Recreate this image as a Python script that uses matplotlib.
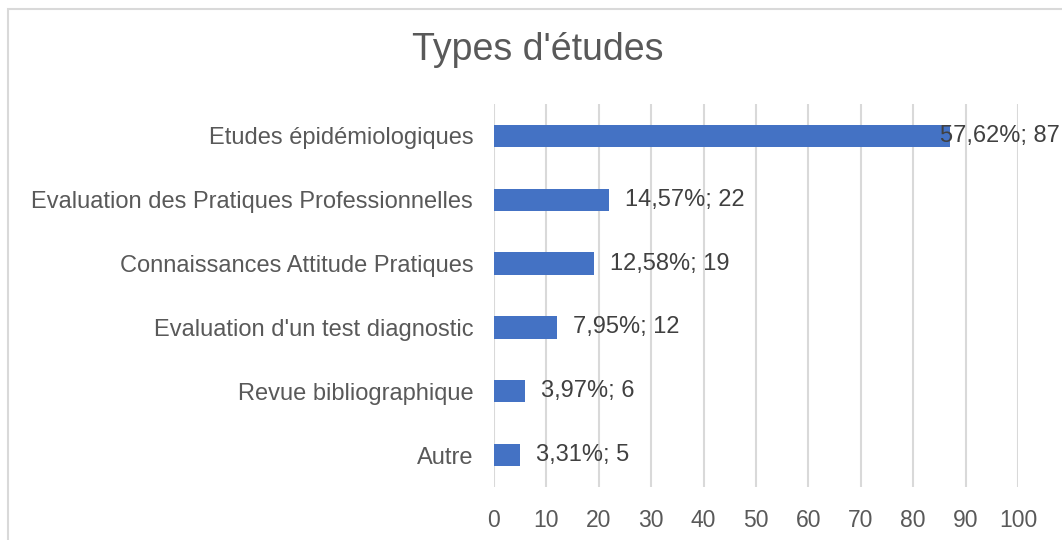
import matplotlib.pyplot as plt
from matplotlib.patches import Rectangle

categories = [
    "Autre",
    "Revue bibliographique",
    "Evaluation d'un test diagnostic",
    "Connaissances Attitude Pratiques",
    "Evaluation des Pratiques Professionnelles",
    "Etudes épidémiologiques",
]
counts = [5, 6, 12, 19, 22, 87]
percents = ["3,31%", "3,97%", "7,95%", "12,58%", "14,57%", "57,62%"]

plt.rcParams['font.family'] = ['Liberation Sans', 'DejaVu Sans']

fig = plt.figure(figsize=(10.62, 5.4), dpi=100)
ax = fig.add_axes([494 / 1062, 1 - 487 / 540, 524 / 1062, 383 / 540])

ax.barh(range(len(categories)), counts, height=0.35, color='#4472c4', zorder=3)

for i, (c, p) in enumerate(zip(counts, percents)):
    off = 16 if c < 80 else -10
    ax.annotate(f"{p}; {c}", (c, i), xytext=(off, 0), textcoords='offset pixels',
                ha='left', va='center', fontsize=17, color='#404040', zorder=4)

ax.set_xlim(0, 100)
ax.set_ylim(-0.5, len(categories) - 0.5)
ax.set_xticks(range(0, 101, 10))
ax.set_yticks(range(len(categories)))
ax.set_yticklabels(categories)
ax.tick_params(axis='both', length=0, labelcolor='#595959')
ax.tick_params(axis='x', pad=16, labelsize=16.5)
ax.tick_params(axis='y', pad=15, labelsize=17)
ax.grid(axis='x', color='#d9d9d9', linewidth=1.5, zorder=0)
for s in ax.spines.values():
    s.set_visible(False)

fig.text(538 / 1062, 1 - 50 / 540, "Types d'études", ha='center', va='center',
         fontsize=27, color='#595959')

fig.patches.append(Rectangle((7.5 / 1062, -0.1), 1.2, 1 - 8.5 / 540 + 0.1,
                             transform=fig.transFigure, fill=False,
                             edgecolor='#d9d9d9', linewidth=1.5))

fig.savefig('out.png', dpi=100)
